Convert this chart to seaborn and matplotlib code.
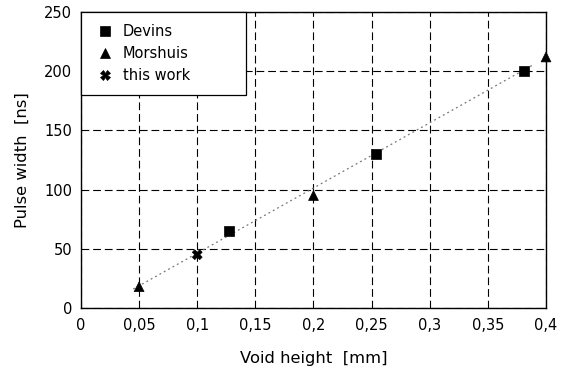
import matplotlib
matplotlib.use("Agg")
import matplotlib.pyplot as plt
import seaborn as sns
import pandas as pd

devins_x = [0.127, 0.254, 0.381]
devins_y = [65, 130, 200]
morshuis_x = [0.05, 0.2, 0.4]
morshuis_y = [18, 95, 212]
thiswork_x = [0.1]
thiswork_y = [45]
fit_x = [0.045, 0.39]
fit_y = [16, 206]

x_ticks = [0, 0.05, 0.1, 0.15, 0.2, 0.25, 0.3, 0.35, 0.4]
x_labels = ["0", "0,05", "0,1", "0,15", "0,2", "0,25", "0,3", "0,35", "0,4"]
y_ticks = [0, 50, 100, 150, 200, 250]

df = pd.DataFrame({
    "x": devins_x + morshuis_x + thiswork_x,
    "y": devins_y + morshuis_y + thiswork_y,
    "src": ["Devins"] * len(devins_x) + ["Morshuis"] * len(morshuis_x) + ["this work"] * len(thiswork_x),
})
fit_df = pd.DataFrame({"x": fit_x, "y": fit_y})

sns.set_style("white")
plt.rcParams["font.family"] = ["DejaVu Sans"]
plt.rcParams["text.color"] = "black"
plt.rcParams["axes.labelcolor"] = "black"

fig = plt.figure(figsize=(5.64, 3.69), dpi=100)
ax = fig.add_axes([0.1436, 0.1653, 0.8245, 0.8022])

sns.lineplot(data=fit_df, x="x", y="y", ax=ax, color="#777777", lw=0.9,
             linestyle=(0, (1.5, 2.5)), legend=False)
sns.scatterplot(data=df, x="x", y="y", hue="src", style="src", ax=ax,
                palette={"Devins": "black", "Morshuis": "black", "this work": "black"},
                markers={"Devins": "s", "Morshuis": "^", "this work": "X"},
                s=50, edgecolor="black", linewidth=0.5, zorder=5, clip_on=False)

ax.set_xlim(0, 0.4)
ax.set_ylim(0, 250)
ax.set_xticks(x_ticks)
ax.set_xticklabels(x_labels)
ax.set_yticks(y_ticks)
ax.grid(True, color="black", linestyle=(0, (7, 3.5)), linewidth=0.8)
for s in ax.spines.values():
    s.set_color("black")
    s.set_linewidth(1.0)
ax.tick_params(axis="both", labelsize=10.5, colors="black", length=3, direction="out")
ax.tick_params(axis="x", pad=4)
ax.set_xlabel("Void height  [mm]", fontsize=11.8, labelpad=13)
ax.set_ylabel("Pulse width  [ns]", fontsize=11.8, labelpad=10)

leg = ax.legend(loc="upper left", bbox_to_anchor=(0.0, 0.0, 0.355, 1.0), mode="expand",
                frameon=True, fancybox=False,
                edgecolor="black", fontsize=10.5, handletextpad=0.4, borderpad=0.85,
                labelspacing=0.47, borderaxespad=0.0, handlelength=1.6)
leg.get_frame().set_linewidth(0.9)
leg.get_frame().set_alpha(1)

fig.savefig("out.png", dpi=100)
